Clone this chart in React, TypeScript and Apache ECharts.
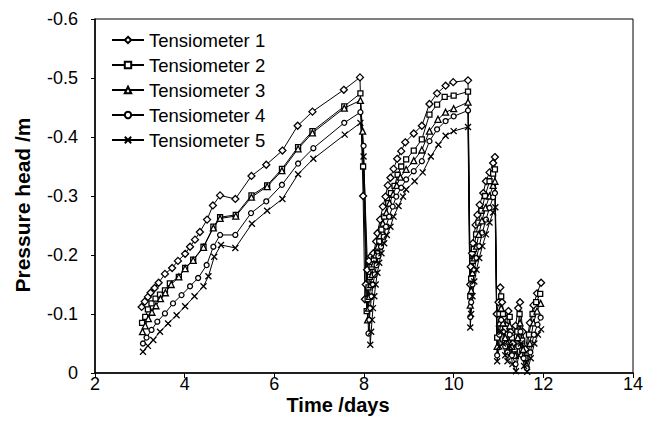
import React, { useEffect, useRef } from "react";
import * as echarts from "echarts";

const seriesNames = ["Tensiometer 1", "Tensiometer 2", "Tensiometer 3", "Tensiometer 4", "Tensiometer 5"];
const xTicks = [2, 4, 6, 8, 10, 12, 14];
const yTicks = [-0.6, -0.5, -0.4, -0.3, -0.2, -0.1, 0];

const tensiometer1 = [
  [3.04, -0.112], [3.11, -0.121], [3.18, -0.129], [3.24, -0.136], [3.33, -0.144], [3.42, -0.153], [3.56, -0.168], [3.72, -0.178],
  [3.85, -0.19], [4.01, -0.202], [4.12, -0.214], [4.23, -0.226], [4.34, -0.239], [4.5, -0.26], [4.63, -0.284], [4.79, -0.301],
  [5.13, -0.295], [5.49, -0.334], [5.82, -0.353], [6.18, -0.377], [6.52, -0.419], [6.85, -0.443], [7.55, -0.48], [7.91, -0.501],
  [7.98, -0.3], [8.02, -0.125], [8.04, -0.15], [8.07, -0.175], [8.11, -0.19], [8.16, -0.198], [8.21, -0.203], [8.27, -0.223],
  [8.3, -0.237], [8.36, -0.26], [8.42, -0.282], [8.48, -0.299], [8.53, -0.318], [8.59, -0.331], [8.66, -0.346], [8.74, -0.363],
  [8.83, -0.376], [8.92, -0.391], [9.11, -0.406], [9.29, -0.419], [9.46, -0.456], [9.63, -0.474], [9.82, -0.487], [9.99, -0.493],
  [10.32, -0.496], [10.37, -0.15], [10.38, -0.18], [10.41, -0.203], [10.43, -0.22], [10.49, -0.251], [10.53, -0.268], [10.58, -0.285],
  [10.66, -0.305], [10.72, -0.325], [10.8, -0.34], [10.88, -0.356], [10.92, -0.366], [10.96, -0.1], [11.0, -0.12], [11.04, -0.145],
  [11.08, -0.12], [11.13, -0.095], [11.18, -0.08], [11.22, -0.105], [11.27, -0.07], [11.32, -0.05], [11.38, -0.08], [11.44, -0.11],
  [11.48, -0.12], [11.54, -0.07], [11.6, -0.04], [11.7, -0.085], [11.78, -0.115], [11.86, -0.135], [11.95, -0.153],
];

const tensiometer2 = [
  [3.05, -0.085], [3.12, -0.095], [3.18, -0.108], [3.26, -0.118], [3.35, -0.126], [3.45, -0.133], [3.56, -0.14], [3.67, -0.152],
  [3.87, -0.163], [4.01, -0.178], [4.19, -0.192], [4.42, -0.214], [4.64, -0.248], [4.79, -0.264], [5.14, -0.268], [5.49, -0.301],
  [5.84, -0.318], [6.17, -0.346], [6.53, -0.383], [6.85, -0.41], [7.56, -0.452], [7.92, -0.474], [7.98, -0.35], [8.06, -0.105],
  [8.08, -0.125], [8.1, -0.145], [8.13, -0.163], [8.17, -0.18], [8.22, -0.193], [8.29, -0.203], [8.34, -0.223], [8.39, -0.243],
  [8.45, -0.265], [8.54, -0.288], [8.6, -0.305], [8.68, -0.317], [8.75, -0.336], [8.83, -0.35], [8.94, -0.362], [9.11, -0.377],
  [9.29, -0.396], [9.46, -0.438], [9.63, -0.455], [9.8, -0.468], [10.0, -0.47], [10.32, -0.477], [10.37, -0.13], [10.39, -0.16],
  [10.42, -0.19], [10.45, -0.21], [10.5, -0.235], [10.55, -0.255], [10.62, -0.275], [10.7, -0.3], [10.8, -0.325], [10.88, -0.338],
  [10.92, -0.345], [10.97, -0.06], [11.02, -0.1], [11.06, -0.13], [11.1, -0.1], [11.15, -0.075], [11.2, -0.065], [11.25, -0.095],
  [11.3, -0.06], [11.36, -0.04], [11.42, -0.07], [11.47, -0.1], [11.53, -0.055], [11.6, -0.025], [11.68, -0.065], [11.76, -0.1],
  [11.84, -0.12], [11.93, -0.134],
];

const tensiometer3 = [
  [3.06, -0.07], [3.12, -0.08], [3.19, -0.092], [3.27, -0.103], [3.36, -0.114], [3.46, -0.126], [3.57, -0.136], [3.7, -0.15],
  [3.87, -0.163], [4.01, -0.177], [4.19, -0.191], [4.42, -0.213], [4.64, -0.246], [4.79, -0.262], [5.14, -0.266], [5.49, -0.298],
  [5.84, -0.316], [6.17, -0.343], [6.53, -0.38], [6.85, -0.407], [7.56, -0.449], [7.92, -0.462], [7.97, -0.41], [8.08, -0.09],
  [8.1, -0.11], [8.12, -0.13], [8.15, -0.15], [8.18, -0.167], [8.22, -0.185], [8.26, -0.2], [8.31, -0.215], [8.36, -0.233],
  [8.42, -0.254], [8.5, -0.272], [8.57, -0.288], [8.65, -0.303], [8.73, -0.318], [8.81, -0.332], [8.94, -0.345], [9.11, -0.36],
  [9.29, -0.378], [9.46, -0.41], [9.65, -0.43], [9.82, -0.442], [10.0, -0.448], [10.32, -0.459], [10.37, -0.115], [10.39, -0.14],
  [10.42, -0.17], [10.46, -0.195], [10.51, -0.215], [10.56, -0.235], [10.63, -0.258], [10.71, -0.28], [10.8, -0.3], [10.88, -0.318],
  [10.92, -0.325], [10.97, -0.045], [11.02, -0.085], [11.06, -0.11], [11.1, -0.085], [11.15, -0.06], [11.2, -0.05], [11.25, -0.08],
  [11.3, -0.045], [11.37, -0.03], [11.43, -0.06], [11.48, -0.085], [11.55, -0.04], [11.62, -0.015], [11.7, -0.05], [11.78, -0.085],
  [11.86, -0.105], [11.94, -0.118],
];

const tensiometer4 = [
  [3.07, -0.05], [3.15, -0.06], [3.26, -0.073], [3.39, -0.087], [3.56, -0.101], [3.74, -0.118], [3.93, -0.132], [4.12, -0.147],
  [4.3, -0.161], [4.49, -0.183], [4.64, -0.214], [4.79, -0.234], [5.13, -0.234], [5.48, -0.271], [5.82, -0.291], [6.17, -0.319],
  [6.53, -0.355], [6.87, -0.381], [7.56, -0.424], [7.92, -0.442], [7.99, -0.385], [8.1, -0.067], [8.12, -0.09], [8.14, -0.11],
  [8.17, -0.13], [8.2, -0.15], [8.24, -0.167], [8.28, -0.183], [8.32, -0.198], [8.38, -0.214], [8.44, -0.231], [8.49, -0.248],
  [8.56, -0.265], [8.64, -0.282], [8.72, -0.299], [8.83, -0.314], [8.94, -0.328], [9.11, -0.342], [9.29, -0.359], [9.46, -0.393],
  [9.63, -0.413], [9.82, -0.427], [10.0, -0.435], [10.32, -0.445], [10.37, -0.095], [10.39, -0.12], [10.42, -0.15], [10.46, -0.175],
  [10.51, -0.195], [10.57, -0.215], [10.64, -0.238], [10.72, -0.26], [10.8, -0.28], [10.88, -0.298], [10.92, -0.305], [10.97, -0.03],
  [11.02, -0.065], [11.06, -0.09], [11.1, -0.07], [11.15, -0.045], [11.2, -0.035], [11.25, -0.065], [11.3, -0.03], [11.38, -0.015],
  [11.44, -0.045], [11.49, -0.07], [11.56, -0.025], [11.63, -0.008], [11.71, -0.035], [11.79, -0.065], [11.87, -0.082], [11.94, -0.094],
];

const tensiometer5 = [
  [3.07, -0.036], [3.18, -0.046], [3.3, -0.056], [3.45, -0.07], [3.63, -0.084], [3.82, -0.098], [4.01, -0.113], [4.22, -0.13],
  [4.42, -0.147], [4.53, -0.164], [4.66, -0.197], [4.81, -0.217], [5.13, -0.212], [5.5, -0.253], [5.84, -0.275], [6.18, -0.295],
  [6.53, -0.337], [6.87, -0.363], [7.57, -0.404], [7.92, -0.424], [7.99, -0.367], [8.14, -0.048], [8.16, -0.07], [8.18, -0.09],
  [8.2, -0.11], [8.23, -0.13], [8.26, -0.15], [8.3, -0.17], [8.34, -0.187], [8.39, -0.203], [8.45, -0.22], [8.51, -0.234],
  [8.59, -0.248], [8.66, -0.265], [8.77, -0.283], [8.87, -0.299], [8.94, -0.311], [9.13, -0.325], [9.31, -0.34], [9.49, -0.367],
  [9.66, -0.387], [9.82, -0.402], [10.0, -0.41], [10.32, -0.417], [10.37, -0.077], [10.39, -0.1], [10.42, -0.13], [10.46, -0.155],
  [10.51, -0.175], [10.57, -0.195], [10.64, -0.215], [10.72, -0.235], [10.8, -0.255], [10.88, -0.272], [10.93, -0.281], [10.97, -0.02],
  [11.02, -0.045], [11.06, -0.07], [11.1, -0.05], [11.15, -0.03], [11.2, -0.02], [11.26, -0.045], [11.31, -0.015], [11.39, -0.003],
  [11.45, -0.03], [11.5, -0.05], [11.57, -0.012], [11.64, -0.002], [11.72, -0.025], [11.8, -0.05], [11.88, -0.065], [11.95, -0.074],
];

const seriesData = [tensiometer1, tensiometer2, tensiometer3, tensiometer4, tensiometer5];
const symbols = ["diamond", "rect", "triangle", "circle", "path://M0,0L10,10M10,0L0,10"];
const symbolSizes = [7, 5, 6, 5, 6];

const FONT = "'Liberation Sans', Arial, Helvetica, sans-serif";

export default function App() {
  const ref = useRef<HTMLDivElement>(null);
  useEffect(() => {
    document.body.style.margin = "0";
    const chart = echarts.init(ref.current!, null, { renderer: "svg" });
    const option = {
      animation: false,
      backgroundColor: "#fff",
      grid: { left: 95, right: 20, top: 19, bottom: 57, show: true, borderColor: "#000", borderWidth: 1 },
      legend: {
        orient: "vertical",
        left: 106,
        top: 25,
        itemWidth: 32,
        itemHeight: 8,
        itemGap: 5,
        data: seriesNames,
        textStyle: { fontFamily: FONT, fontSize: 18.5, color: "#000", lineHeight: 20 },
      },
      xAxis: {
        type: "value",
        min: xTicks[0],
        max: xTicks[xTicks.length - 1],
        interval: 2,
        splitLine: { show: false },
        axisLine: { onZero: false, lineStyle: { color: "#000", width: 1.5 } },
        axisTick: { show: true, inside: false, length: 5, lineStyle: { color: "#000" } },
        axisLabel: { fontFamily: FONT, fontSize: 18, lineHeight: 14, color: "#000", margin: 4 },
      },
      yAxis: {
        type: "value",
        inverse: true,
        min: yTicks[0],
        max: yTicks[yTicks.length - 1],
        interval: 0.1,
        splitLine: { show: false },
        axisLine: { show: true, onZero: false, lineStyle: { color: "#000", width: 1.5 } },
        axisTick: { show: true, inside: false, length: 4, lineStyle: { color: "#000" } },
        axisLabel: {
          fontFamily: FONT,
          fontSize: 18,
          color: "#000",
          margin: 17,
          formatter: (v: number) => (Math.abs(v) < 1e-9 ? "0" : v.toFixed(1)),
        },
      },
      graphic: [
        {
          type: "text",
          x: 22,
          y: 205,
          rotation: Math.PI / 2,
          style: {
            text: "Pressure head /m",
            font: `bold 21px ${FONT}`,
            fill: "#000",
            textAlign: "center",
            textVerticalAlign: "middle",
          },
        },
        {
          type: "text",
          x: 338,
          y: 405,
          style: {
            text: "Time /days",
            font: `bold 20px ${FONT}`,
            fill: "#000",
            textAlign: "center",
            textVerticalAlign: "middle",
          },
        },
      ],
      series: seriesData.map((d, i) => ({
        name: seriesNames[i],
        type: "line",
        data: d,
        symbol: symbols[i],
        symbolSize: symbolSizes[i],
        showAllSymbol: true,
        lineStyle: { color: "#000", width: 1 },
        itemStyle: { color: "#fff", borderColor: "#000", borderWidth: 1.3 },
        emphasis: { disabled: true },
      })),
    };
    chart.setOption(option);
    return () => chart.dispose();
  }, []);
  return <div ref={ref} style={{ width: 653, height: 430 }} />;
}
